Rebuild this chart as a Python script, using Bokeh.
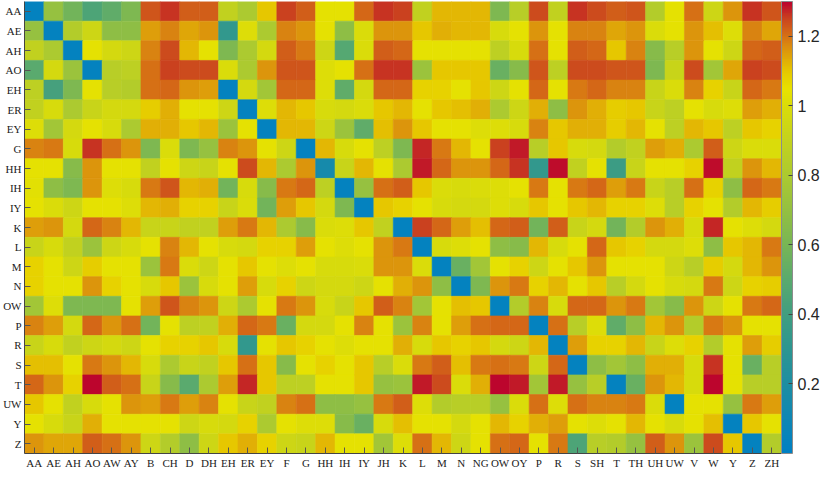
from bokeh.plotting import figure
from bokeh.models import (ColumnDataSource, LinearColorMapper, ColorBar,
                          FixedTicker, NumeralTickFormatter, FactorRange,
                          CategoricalAxis)
from bokeh.transform import transform
from bokeh.embed import file_html
from bokeh.resources import INLINE

rows = ["AA", "AE", "AH", "AO", "EH", "ER", "EY", "G", "HH", "IH", "IY", "K",
        "L", "M", "N", "OW", "P", "R", "S", "T", "UW", "Y", "Z"]
cols = ["AA", "AE", "AH", "AO", "AW", "AY", "B", "CH", "D", "DH",
        "EH", "ER", "EY", "F", "G", "HH", "IH", "IY", "JH", "K",
        "L", "M", "N", "NG", "OW", "OY", "P", "R", "S", "SH",
        "T", "TH", "UH", "UW", "V", "W", "Y", "Z", "ZH"]

r_AA = [0.03, 0.71, 0.58, 0.45, 0.52, 0.62, 1.23, 1.26, 1.22, 1.22,
        0.89, 0.80, 1.10, 1.25, 1.22, 1.04, 1.04, 1.21, 1.26, 1.25,
        0.89, 1.12, 1.12, 1.12, 0.62, 0.85, 1.24, 0.89, 1.26, 1.24,
        1.22, 1.23, 0.83, 1.04, 1.20, 0.94, 1.16, 1.26, 1.23]
r_AE = [0.71, 0.03, 0.83, 0.94, 0.68, 0.68, 1.15, 1.18, 1.14, 1.16,
        0.33, 1.01, 0.80, 1.18, 1.16, 1.04, 0.68, 1.00, 1.16, 1.16,
        1.10, 1.13, 1.12, 1.12, 0.99, 1.04, 1.16, 1.04, 1.18, 1.18,
        1.14, 1.16, 1.00, 1.04, 1.16, 1.11, 1.01, 1.18, 1.14]
r_AH = [0.89, 0.80, 0.03, 1.04, 0.97, 0.94, 1.18, 1.24, 1.12, 1.04,
        0.62, 0.80, 0.97, 1.22, 1.19, 0.94, 0.48, 1.00, 1.22, 1.21,
        1.04, 1.04, 1.04, 1.04, 0.87, 0.99, 1.20, 1.04, 1.22, 1.21,
        1.10, 1.18, 0.65, 0.85, 1.16, 1.04, 0.94, 1.21, 1.22]
r_AO = [0.50, 0.97, 0.73, 0.03, 0.85, 0.87, 1.20, 1.25, 1.24, 1.24,
        1.00, 0.80, 1.16, 1.23, 1.23, 1.01, 1.04, 1.20, 1.26, 1.26,
        0.73, 1.10, 1.10, 1.10, 0.55, 0.65, 1.23, 0.87, 1.24, 1.24,
        1.23, 1.23, 0.62, 0.92, 1.24, 0.76, 1.14, 1.25, 1.24]
r_EH = [0.87, 0.42, 0.62, 1.04, 0.85, 0.83, 1.20, 1.21, 1.16, 1.15,
        0.03, 0.97, 0.76, 1.21, 1.21, 1.01, 0.52, 0.97, 1.21, 1.21,
        1.08, 1.08, 1.04, 1.10, 0.94, 1.04, 1.21, 1.04, 1.19, 1.21,
        1.18, 1.18, 0.92, 1.00, 1.18, 1.08, 0.92, 1.21, 1.19]
r_ER = [0.89, 0.99, 0.80, 0.92, 0.97, 0.97, 1.09, 1.13, 1.04, 1.04,
        0.94, 0.03, 1.01, 1.12, 1.10, 0.99, 0.97, 1.00, 1.10, 1.12,
        1.04, 1.10, 1.11, 1.13, 0.80, 0.94, 1.13, 0.68, 1.16, 1.13,
        1.09, 1.10, 0.92, 0.87, 1.04, 0.99, 1.01, 1.15, 1.13]
r_EY = [1.01, 0.76, 0.97, 1.04, 0.99, 0.80, 1.13, 1.13, 1.10, 1.12,
        0.73, 1.04, 0.03, 1.12, 1.12, 0.94, 0.73, 0.52, 1.11, 1.16,
        1.10, 1.04, 1.04, 1.01, 1.01, 0.99, 1.18, 1.10, 1.13, 1.13,
        1.09, 1.12, 1.04, 0.87, 1.12, 1.10, 0.87, 1.10, 1.08]
r_G = [1.18, 1.19, 0.99, 1.26, 1.20, 1.16, 0.62, 1.00, 0.62, 0.71,
       1.18, 1.16, 1.04, 0.94, 0.03, 1.12, 0.99, 1.04, 0.87, 0.62,
       1.27, 1.19, 1.12, 1.04, 1.25, 1.28, 0.85, 1.10, 0.99, 0.97,
       0.83, 0.89, 1.15, 1.13, 0.80, 1.22, 0.94, 1.00, 1.00]
r_HH = [1.04, 1.04, 0.65, 1.16, 1.04, 1.04, 0.89, 1.04, 0.94, 0.92,
        1.04, 1.24, 1.12, 0.80, 1.16, 0.15, 0.92, 1.12, 1.04, 0.80,
        1.28, 1.21, 1.16, 1.16, 1.21, 1.26, 0.33, 1.29, 0.89, 1.04,
        0.38, 0.92, 1.04, 1.04, 1.08, 1.29, 0.89, 1.16, 1.12]
r_IH = [1.03, 0.68, 0.62, 1.16, 1.01, 0.99, 1.19, 1.23, 1.12, 1.13,
        0.58, 0.99, 0.65, 1.19, 1.21, 0.87, 0.03, 0.71, 1.20, 1.22,
        1.10, 1.00, 0.99, 1.00, 1.01, 1.04, 1.19, 1.04, 1.19, 1.21,
        1.15, 1.19, 0.92, 0.85, 1.20, 1.08, 0.68, 1.21, 1.19]
r_IY = [1.04, 1.00, 0.94, 1.04, 1.04, 1.01, 1.12, 1.13, 1.08, 1.08,
        0.92, 1.00, 0.58, 1.15, 1.10, 0.97, 0.62, 0.03, 1.10, 1.08,
        1.04, 0.99, 0.97, 0.97, 1.01, 0.99, 1.10, 1.04, 1.10, 1.12,
        1.08, 1.08, 1.01, 0.85, 1.08, 1.04, 0.83, 1.12, 1.09]
r_K = [1.15, 1.16, 0.97, 1.21, 1.18, 1.12, 0.92, 0.92, 0.89, 0.89,
       1.15, 1.19, 1.12, 0.80, 0.65, 1.00, 1.01, 1.10, 0.89, 0.03,
       1.25, 1.21, 1.15, 1.11, 1.21, 1.22, 0.58, 1.22, 0.92, 0.97,
       0.58, 0.83, 1.16, 1.13, 0.99, 1.27, 1.04, 1.01, 0.97]
r_L = [0.92, 0.99, 0.89, 0.73, 0.94, 0.99, 1.04, 1.18, 1.12, 1.04,
       0.99, 0.97, 1.08, 1.08, 1.15, 1.04, 1.01, 1.04, 1.16, 1.19,
       0.03, 0.99, 1.01, 1.04, 0.68, 0.65, 1.12, 0.99, 1.04, 1.21,
       1.10, 1.08, 0.97, 0.97, 1.01, 0.68, 1.10, 1.12, 1.19]
r_M = [1.08, 1.04, 0.94, 1.09, 1.04, 1.04, 0.73, 1.19, 1.00, 0.94,
       1.04, 1.10, 1.04, 1.01, 1.04, 0.99, 0.99, 1.00, 1.16, 1.16,
       1.00, 0.03, 0.55, 0.76, 1.04, 1.08, 0.94, 1.04, 1.10, 1.16,
       1.04, 1.04, 1.04, 0.94, 0.85, 1.09, 0.97, 1.12, 1.16]
r_N = [1.08, 1.04, 1.04, 1.16, 1.08, 1.04, 0.99, 1.10, 0.73, 0.99,
       1.04, 1.15, 0.99, 1.08, 0.94, 0.97, 0.97, 0.94, 1.04, 1.13,
       1.16, 0.68, 0.03, 0.62, 1.16, 1.19, 1.08, 1.12, 1.04, 1.10,
       0.85, 0.97, 1.04, 0.99, 0.97, 1.19, 0.94, 1.08, 1.09]
r_OW = [0.76, 1.01, 0.62, 0.62, 0.62, 1.04, 1.15, 1.23, 1.18, 1.16,
        0.94, 0.80, 1.04, 1.19, 1.16, 0.99, 0.92, 1.10, 1.22, 1.18,
        0.76, 1.04, 1.11, 1.10, 0.03, 0.83, 1.18, 0.99, 1.21, 1.21,
        1.16, 1.19, 0.76, 0.65, 1.16, 0.94, 1.04, 1.19, 1.21]
r_P = [1.18, 1.15, 0.97, 1.21, 1.16, 1.20, 0.58, 1.04, 0.87, 0.89,
       1.13, 1.21, 1.19, 0.55, 0.97, 0.97, 1.04, 1.18, 1.04, 0.73,
       1.18, 1.04, 1.15, 1.20, 1.21, 1.21, 0.03, 1.20, 0.85, 1.01,
       0.52, 0.68, 1.12, 1.16, 0.83, 1.19, 1.16, 1.04, 1.04]
r_R = [0.92, 0.99, 0.89, 0.94, 0.97, 0.94, 1.04, 1.08, 1.08, 1.10,
       0.99, 0.33, 1.04, 1.10, 1.08, 1.04, 1.01, 1.04, 1.04, 1.13,
       0.99, 1.10, 1.08, 1.10, 0.97, 0.94, 1.12, 0.03, 1.15, 1.08,
       1.08, 1.12, 0.92, 1.01, 1.08, 0.83, 1.04, 1.15, 1.09]
r_S = [1.11, 1.11, 1.04, 1.19, 1.16, 1.12, 0.99, 0.80, 0.92, 0.89,
       1.10, 1.20, 1.10, 0.65, 1.04, 1.08, 1.04, 1.10, 0.85, 1.00,
       1.19, 1.22, 1.11, 1.19, 1.20, 1.19, 0.94, 1.21, 0.03, 0.68,
       0.76, 0.68, 1.13, 1.13, 0.99, 1.26, 1.04, 0.55, 0.85]
r_T = [1.21, 1.16, 1.08, 1.30, 1.22, 1.20, 0.92, 0.65, 0.50, 0.80,
       1.15, 1.27, 1.10, 0.87, 0.87, 1.04, 1.04, 1.10, 0.71, 0.73,
       1.28, 1.24, 1.00, 1.13, 1.30, 1.28, 0.76, 1.28, 0.71, 0.85,
       0.03, 0.55, 1.16, 1.12, 0.99, 1.30, 1.04, 0.85, 0.85]
r_UW = [1.10, 1.04, 0.89, 0.99, 1.04, 1.16, 1.15, 1.19, 1.15, 1.18,
        1.04, 0.92, 0.89, 1.18, 1.20, 0.68, 0.68, 0.71, 1.19, 1.22,
        1.01, 0.83, 0.85, 0.85, 0.71, 1.00, 1.20, 1.01, 1.20, 1.18,
        1.18, 1.19, 1.00, 0.03, 1.04, 1.04, 0.71, 1.19, 1.15]
r_Y = [1.04, 0.99, 0.92, 1.13, 1.04, 1.04, 1.04, 1.04, 0.94, 0.99,
       0.97, 1.08, 0.80, 1.04, 1.01, 1.01, 0.65, 0.55, 0.99, 1.11,
       1.04, 1.04, 0.97, 1.04, 1.12, 1.08, 1.13, 1.15, 1.04, 1.01,
       1.04, 1.12, 1.04, 0.99, 1.04, 1.11, 0.03, 1.10, 1.04]
r_Z = [1.16, 1.14, 1.14, 1.22, 1.20, 1.16, 0.94, 0.83, 0.68, 0.94,
       1.10, 1.13, 1.08, 0.94, 0.92, 1.12, 1.04, 1.04, 0.76, 1.01,
       1.20, 1.12, 0.94, 1.04, 1.20, 1.21, 1.04, 1.19, 0.45, 0.85,
       0.83, 0.71, 1.22, 1.16, 0.73, 1.24, 1.10, 0.03, 0.83]

row_values = [r_AA, r_AE, r_AH, r_AO, r_EH, r_ER, r_EY, r_G, r_HH, r_IH, r_IY,
              r_K, r_L, r_M, r_N, r_OW, r_P, r_R, r_S, r_T, r_UW, r_Y, r_Z]

color_ticks = [0.2, 0.4, 0.6, 0.8, 1.0, 1.2]
c_low, c_high = 0.0, 1.3

# colour map (styling): anchor colours sampled from the reference colour bar
anchors = [(0.00, (0, 128, 195)), (0.10, (15, 135, 180)), (0.20, (30, 142, 162)),
           (0.30, (45, 150, 145)), (0.40, (65, 158, 128)), (0.50, (90, 170, 110)),
           (0.60, (120, 182, 85)), (0.70, (148, 192, 65)), (0.80, (172, 202, 48)),
           (0.90, (195, 210, 30)), (1.00, (218, 220, 10)), (1.05, (232, 226, 0)),
           (1.10, (230, 200, 0)), (1.15, (222, 160, 10)), (1.20, (215, 115, 20)),
           (1.25, (203, 70, 30)), (1.30, (188, 5, 45))]


def col_at(v):
    for (a, ca), (b, cb) in zip(anchors[:-1], anchors[1:]):
        if a <= v <= b:
            t = (v - a) / (b - a)
            c = [round(ca[i] + (cb[i] - ca[i]) * t) for i in range(3)]
            return "#%02x%02x%02x" % tuple(c)
    return "#%02x%02x%02x" % anchors[-1][1]


N = 256
palette = [col_at(c_low + (c_high - c_low) * i / (N - 1)) for i in range(N)]

xs, ys, vs = [], [], []
for rname, vals in zip(rows, row_values):
    for cname, v in zip(cols, vals):
        xs.append(cname)
        ys.append(rname)
        vs.append(v)
source = ColumnDataSource(dict(x=xs, y=ys, v=vs))

mapper = LinearColorMapper(palette=palette, low=c_low, high=c_high)

p = figure(x_range=FactorRange(*cols), y_range=FactorRange(*reversed(rows)),
           width=822, height=471, output_backend="svg", toolbar_location=None,
           min_border_left=0, min_border_right=0, min_border_top=1,
           min_border_bottom=0)
p.rect(x="x", y="y", width=1, height=1, source=source,
       fill_color=transform("v", mapper), line_color=transform("v", mapper),
       line_width=0.6)

p.outline_line_color = None
p.grid.grid_line_color = None
for ax in (p.xaxis[0], p.yaxis[0]):
    ax.major_tick_in = 6
    ax.major_tick_out = 0
    ax.major_tick_line_color = "#555555"
    ax.axis_line_color = "#444444"
    ax.major_label_text_font = "Liberation Serif"
    ax.major_label_text_font_size = "11px"
    ax.major_label_text_color = "#222222"
    ax.major_label_standoff = 3
p.x_range.range_padding = 0
p.y_range.range_padding = 0

# invisible spacer between the heat map and the colour bar
spacer = CategoricalAxis(axis_line_color=None, major_tick_line_color=None,
                         minor_tick_line_color=None, major_tick_out=0,
                         major_tick_in=0, major_label_standoff=5,
                         major_label_overrides={r: "" for r in rows},
                         major_label_text_font_size="1px",
                         major_label_text_color=None,
                         major_label_text_alpha=0)
p.add_layout(spacer, "right")

cb = ColorBar(color_mapper=mapper, ticker=FixedTicker(ticks=color_ticks),
              formatter=NumeralTickFormatter(format="0.[0]"),
              width=11, padding=0, margin=0, label_standoff=5,
              major_label_text_font="Liberation Sans",
              major_label_text_font_size="16px",
              major_label_text_color="#262626",
              major_tick_in=4, major_tick_out=0,
              major_tick_line_color="#444444",
              bar_line_color="#8c8c8c",
              background_fill_alpha=0, border_line_color=None)
p.add_layout(cb, "right")

open("out.html", "w").write(file_html(p, INLINE))
